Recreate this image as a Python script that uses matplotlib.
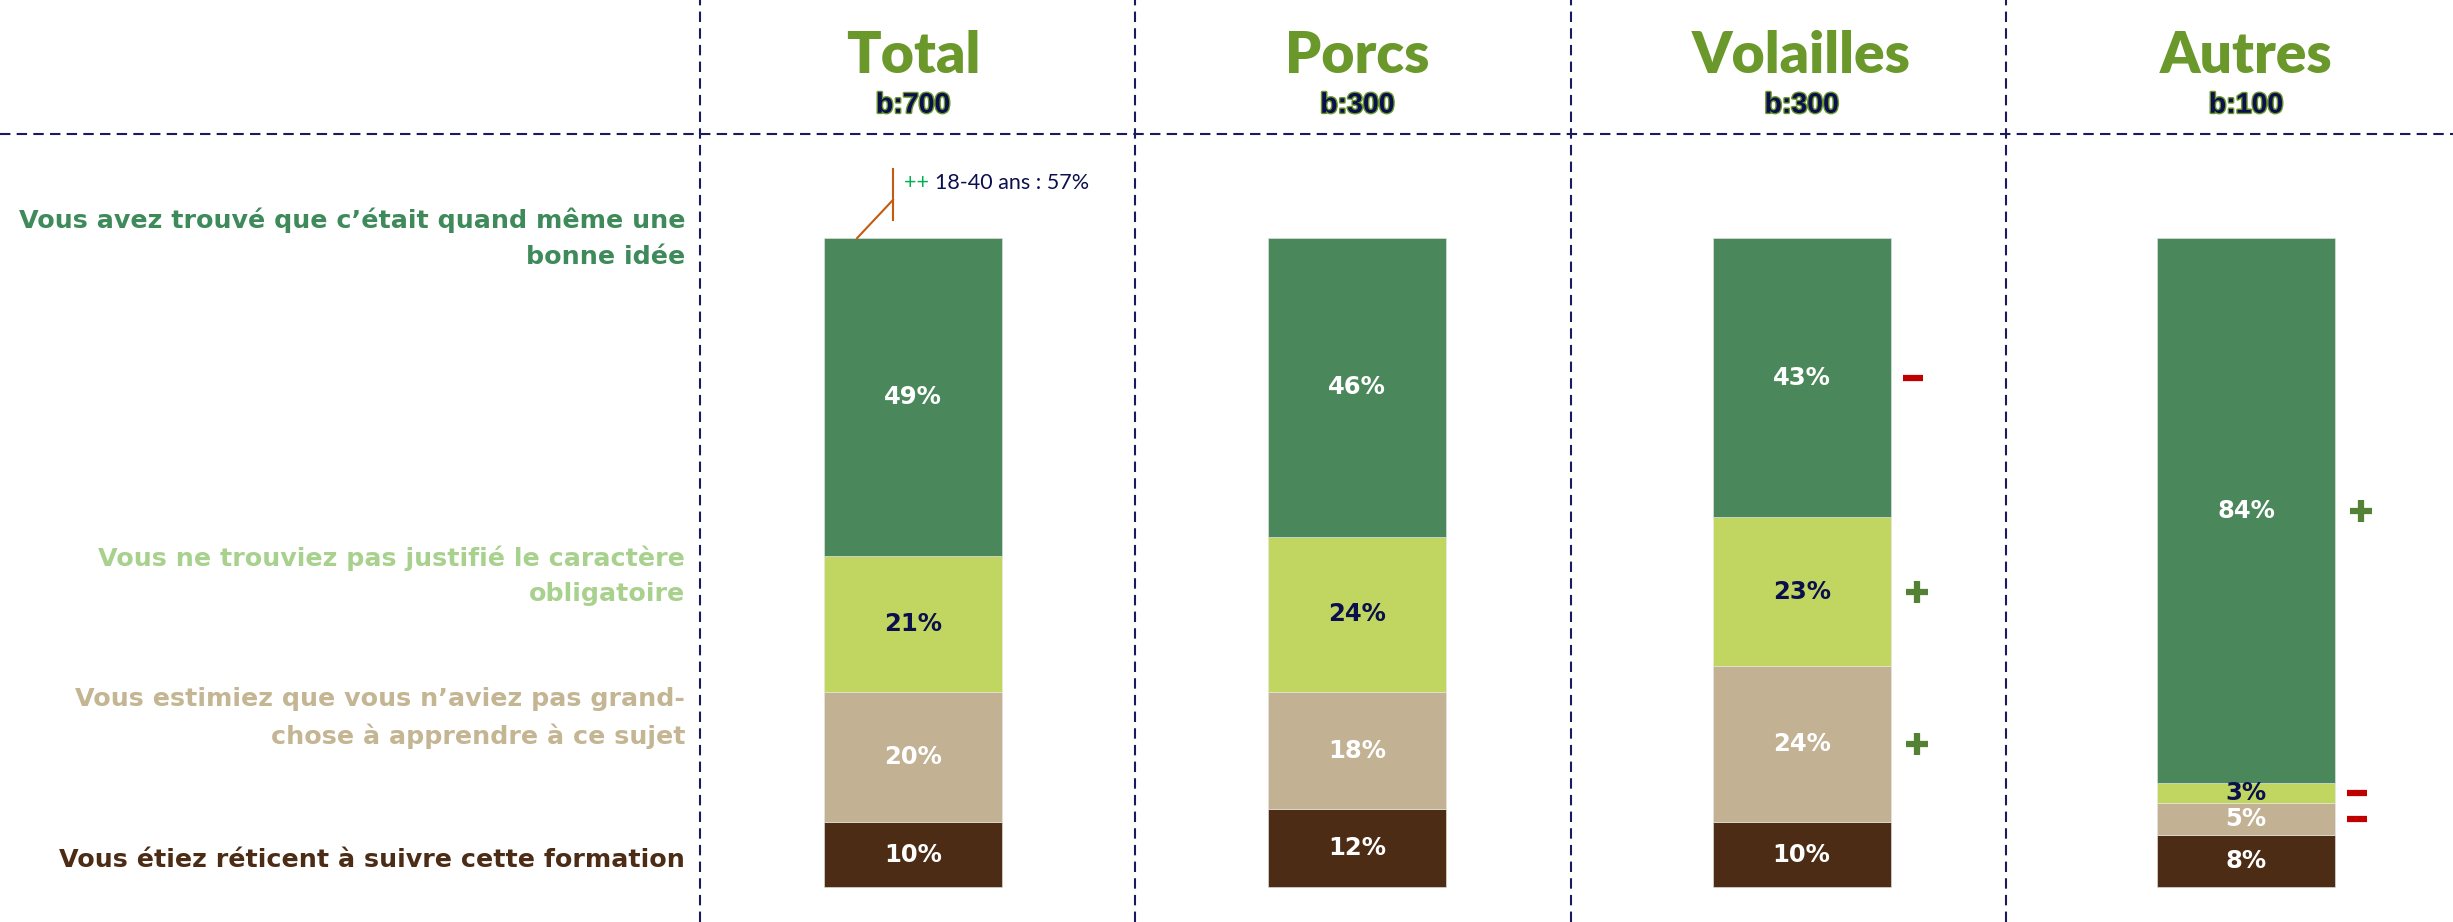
import matplotlib.pyplot as plt
import matplotlib.patheffects as pe

# Données (empilement de bas en haut)
groups = ['Total', 'Porcs', 'Volailles', 'Autres']
bases = ['b:700', 'b:300', 'b:300', 'b:100']

reticent = [10, 12, 10, 8]
rien_a_apprendre = [20, 18, 24, 5]
pas_justifie = [21, 24, 23, 3]
bonne_idee = [49, 46, 43, 84]

# écarts significatifs vs total
sig_reticent = ['', '', '', '']
sig_rien = ['', '', '+', '-']
sig_pas_justifie = ['', '', '+', '-']
sig_bonne_idee = ['', '', '-', '+']

answers = [
    "Vous étiez réticent à suivre cette formation",
    "Vous estimiez que vous n’aviez pas grand-\nchose à apprendre à ce sujet",
    "Vous ne trouviez pas justifié le caractère\nobligatoire",
    "Vous avez trouvé que c’était quand même une\nbonne idée",
]

series = [reticent, rien_a_apprendre, pas_justifie, bonne_idee]
signs = [sig_reticent, sig_rien, sig_pas_justifie, sig_bonne_idee]
colors = ['#4D2C16', '#C2B293', '#C1D660', '#4A875B']
label_colors = ['#4D2C16', '#C4B593', '#A9D18E', '#3E8A5A']
value_colors = ['white', 'white', '#0B0F4E', 'white']
label_y = [4.2, 26, 48, 100]

navy = '#0B0F4E'
title_green = '#6A982B'

fig = plt.figure(figsize=(24.53, 9.22), dpi=100)
ax = fig.add_axes([0, 0, 1, 1])
ax.set_xlim(-2.055, 3.466)
ax.set_ylim(-5.39, 136.7)
ax.axis('off')

x = list(range(len(groups)))
bottom = [0] * len(groups)
for vals, col, vcol, sg in zip(series, colors, value_colors, signs):
    ax.bar(x, vals, width=0.4, bottom=bottom, color=col,
           edgecolor='#E8E8E8', linewidth=0.4)
    for i, v in enumerate(vals):
        yc = bottom[i] + v / 2
        ax.text(i, yc, f"{v}%", ha='center', va='center', color=vcol,
                fontsize=17.5, fontweight='bold', family='DejaVu Sans')
        if sg[i] == '+':
            ax.plot(i + 0.26, yc, marker='+', color='#548235',
                    markersize=16, mew=4.5)
        elif sg[i] == '-':
            ax.plot(i + 0.25, yc, marker='_', color='#C00000',
                    markersize=14, mew=4.5)
    bottom = [b + v for b, v in zip(bottom, vals)]

# libellés à gauche
for txt, yy, col in zip(answers, label_y, label_colors):
    ax.text(-0.513, yy, txt, ha='right', va='center', color=col,
            fontsize=18.3, fontweight='bold', family='DejaVu Sans',
            multialignment='right', linespacing=1.6)

# en-têtes
for i, (g, b) in enumerate(zip(groups, bases)):
    ax.text(i, 128.0, g, ha='center', va='center', color=title_green,
            fontsize=41, fontweight='heavy', family='Lato')
    ax.text(i, 120.4, b, ha='center', va='center', color=navy,
            fontsize=20.5, fontweight='bold', family='Liberation Sans',
            path_effects=[pe.withStroke(linewidth=2, foreground=title_green)])

# séparateurs
for xd in [-0.48, 0.5, 1.48, 2.46]:
    ax.axvline(xd, color='#1A1A5E', lw=1.5, ls=(0, (5, 3)))
ax.axhline(116.0, color='#1A1A5E', lw=1.5, ls=(0, (5, 3)))

# annotation sous-groupe
top = bottom[0]
ax.plot([-0.126, -0.045], [top, top + 5.9], color='#C55A11', lw=1.5)
ax.plot([-0.045, -0.045], [top + 2.8, top + 10.6], color='#C55A11', lw=1.5)
t1 = ax.text(-0.02, top + 8.5, "++ ", color='#00B050', fontsize=15.5,
             va='center', ha='left', family='Lato')
ax.annotate("18-40 ans : 57%", xy=(1, 0.5), xycoords=t1, va='center',
            ha='left', color=navy, fontsize=15.5, family='Lato')

fig.savefig('out.png', dpi=100)
